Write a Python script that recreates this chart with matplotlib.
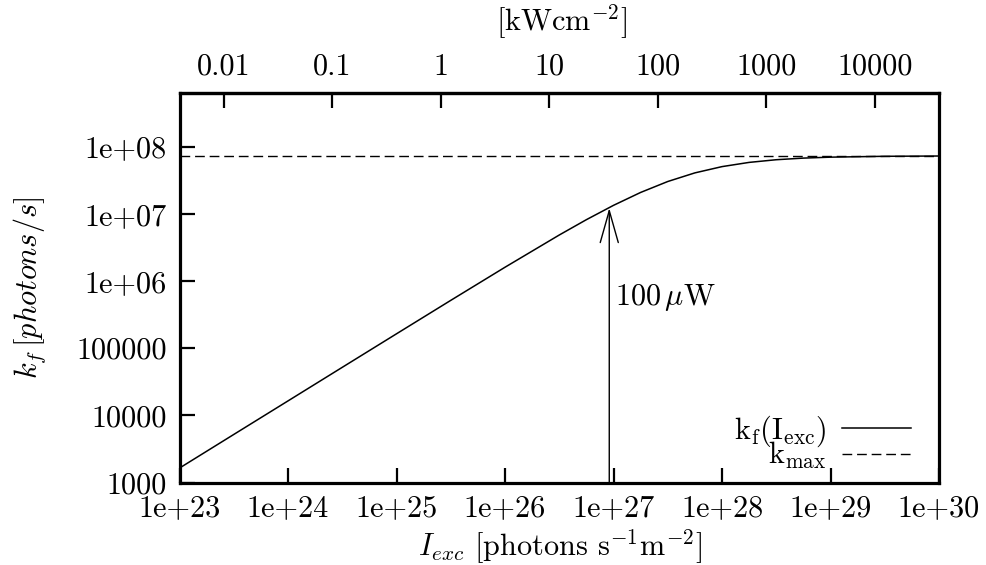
import numpy as np
import matplotlib
matplotlib.use("Agg")
import matplotlib.pyplot as plt
from matplotlib.ticker import FixedLocator, FixedFormatter, NullLocator

# ---- data ----
intensity = [1e23, 3.162e23, 1e24, 3.162e24, 1e25, 3.162e25, 1e26, 3.162e26,
             5.623e26, 1e27, 1.778e27, 3.162e27, 5.623e27, 1e28, 1.778e28,
             3.162e28, 5.623e28, 1e29, 3.162e29, 1e30]
kf = [1640, 5190, 16400, 51860, 1.637e5, 5.151e5, 1.604e6, 4.843e6,
      8.19e6, 1.339e7, 2.084e7, 3.032e7, 4.075e7, 5.052e7, 5.839e7,
      6.399e7, 6.765e7, 6.989e7, 7.199e7, 7.268e7]
kmax = 7.28e7
arrow_x = 9.14e26
arrow_y = 1.22e7
conv = 2.57e25  # photons s^-1 m^-2 per kW cm^-2

xticks = [1e23, 1e24, 1e25, 1e26, 1e27, 1e28, 1e29, 1e30]
xticklabels = ["1e+23", "1e+24", "1e+25", "1e+26", "1e+27", "1e+28", "1e+29", "1e+30"]
yticks = [1e3, 1e4, 1e5, 1e6, 1e7, 1e8]
yticklabels = ["1000", "10000", "100000", "1e+06", "1e+07", "1e+08"]
topticks = [0.01, 0.1, 1, 10, 100, 1000, 10000]
topticklabels = ["0.01", "0.1", "1", "10", "100", "1000", "10000"]

plt.rcParams["font.family"] = "serif"
plt.rcParams["font.serif"] = ["cmr10"]
plt.rcParams["mathtext.fontset"] = "cm"
plt.rcParams["axes.unicode_minus"] = False
plt.rcParams["axes.formatter.use_mathtext"] = True

FS = 21.8
fig = plt.figure(figsize=(9.86, 5.65), dpi=100)
ax = fig.add_axes([179.5 / 986, 1 - 482.5 / 565, (939 - 179.5) / 986, (482.5 - 93.3) / 565])
ax.set_xscale("log")
ax.set_yscale("log")
ax.set_xlim(1e23, 1e30)
ax.set_ylim(1e3, 6.24e8)

ax.plot(intensity, kf, color="black", lw=1.1, label=r"$\mathrm{k_f(I_{exc})}$")
ax.axhline(kmax, color="black", lw=1.0, dashes=(7, 3.5), label=r"$\mathrm{k_{max}}$")

ax.annotate("", xy=(arrow_x, arrow_y), xytext=(arrow_x, 1e3),
            arrowprops=dict(arrowstyle="->,head_length=23,head_width=6.5",
                            mutation_scale=1, color="black", lw=1.0,
                            shrinkA=0, shrinkB=0))
ax.text(arrow_x * 1.13, 5.6e5, r"$100\,\mu\mathrm{W}$", fontsize=FS, va="center", ha="left")

for s in ax.spines.values():
    s.set_linewidth(2.3)

ax.xaxis.set_major_locator(FixedLocator(xticks))
ax.xaxis.set_major_formatter(FixedFormatter(xticklabels))
ax.yaxis.set_major_locator(FixedLocator(yticks))
ax.yaxis.set_major_formatter(FixedFormatter(yticklabels))
ax.xaxis.set_minor_locator(NullLocator())
ax.yaxis.set_minor_locator(NullLocator())
ax.tick_params(which="major", direction="in", length=11, width=1.6,
               labelsize=FS, top=False, right=False, pad=9)

sec = ax.secondary_xaxis("top", functions=(lambda x: x / conv, lambda x: x * conv))
sec.set_xscale("log")
sec.xaxis.set_major_locator(FixedLocator(topticks))
sec.xaxis.set_major_formatter(FixedFormatter(topticklabels))
sec.xaxis.set_minor_locator(NullLocator())
sec.tick_params(which="major", direction="in", length=11, width=1.6, labelsize=FS, pad=9)
sec.spines["top"].set_linewidth(2.3)
sec.set_xlabel(r"[kWcm$^{-2}$]", fontsize=FS)
sec.xaxis.set_label_coords(0.503, (482.5 - 22) / (482.5 - 93.3), transform=ax.transAxes)
sec.xaxis.label.set_va("center")

ax.set_xlabel(r"$I_{exc}$ [photons s$^{-1}$m$^{-2}$]", fontsize=FS)
ax.xaxis.set_label_coords((560 - 179.5) / 759.5, (482.5 - 547) / 389.2)
ax.xaxis.label.set_va("center")
ax.set_ylabel(r"$k_f\,[photons/s]$", fontsize=FS)
ax.yaxis.set_label_coords((30 - 179.5) / 759.5, 0.5)
ax.yaxis.label.set_va("center")

leg = ax.legend(loc="lower right", frameon=False, markerfirst=False, fontsize=FS,
                handlelength=2.3, handletextpad=0.5, labelspacing=-0.28,
                borderaxespad=0.3, bbox_to_anchor=(0.9916, -0.026))

fig.savefig("out.png", dpi=100)
